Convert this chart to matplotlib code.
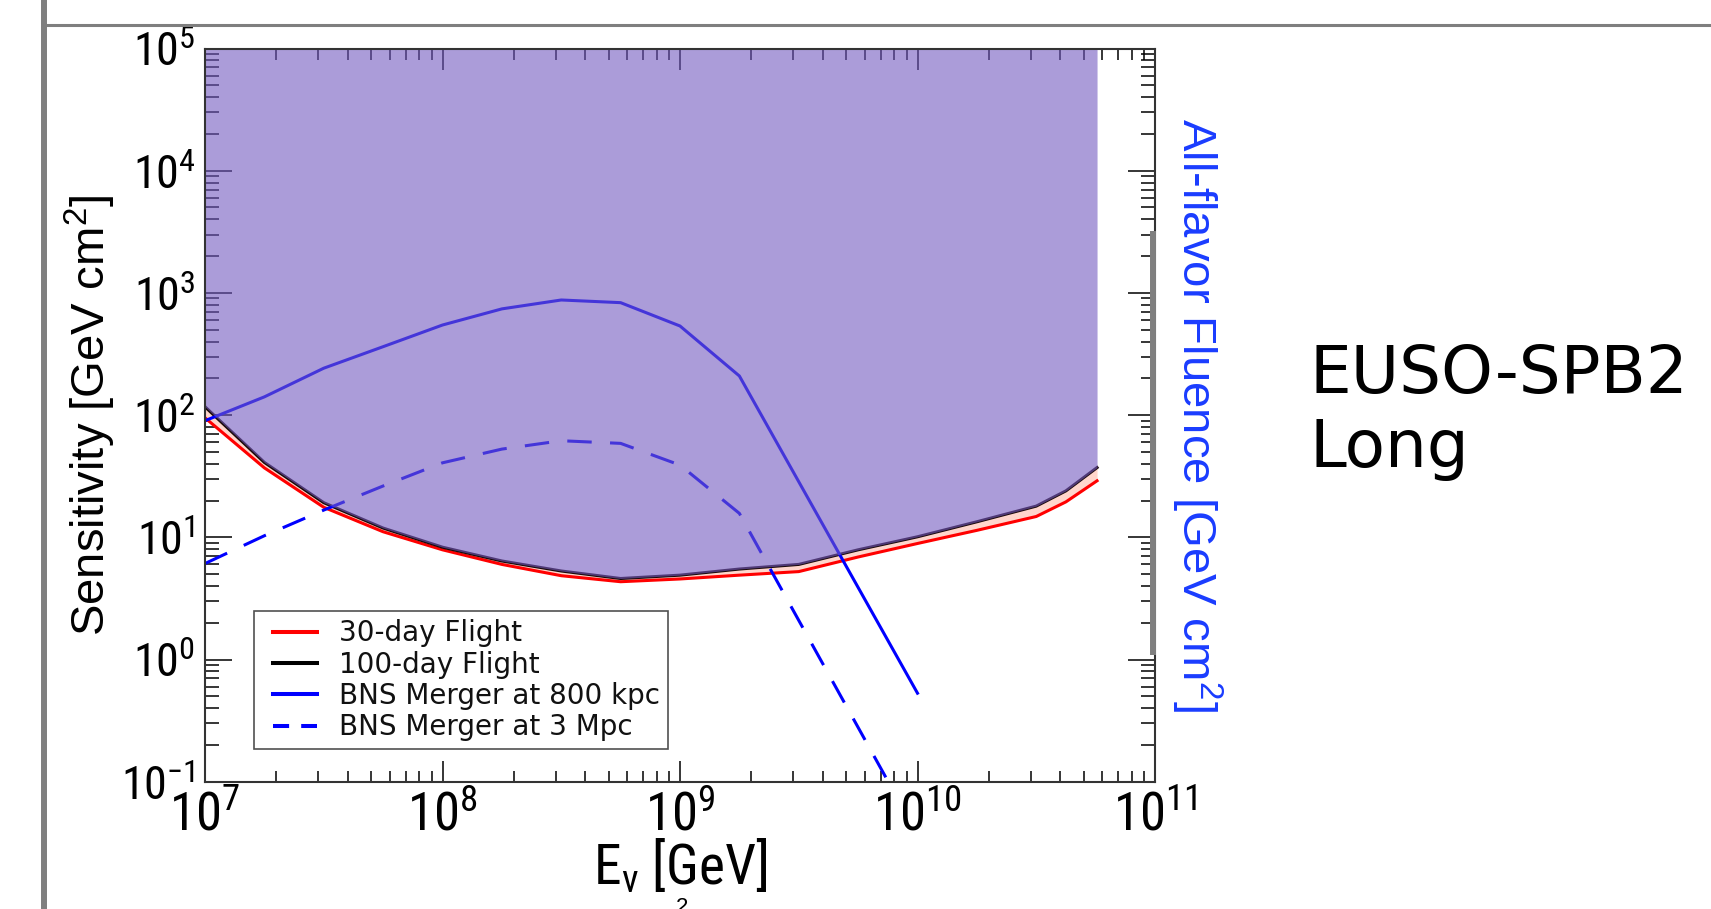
import os
import numpy as np
import matplotlib
matplotlib.use("Agg")
import matplotlib.pyplot as plt
from matplotlib import font_manager as fm
from matplotlib.font_manager import FontProperties
from matplotlib.lines import Line2D
from matplotlib.legend_handler import HandlerLine2D
from matplotlib.ticker import LogLocator, NullFormatter

# ---------------- data ----------------
sens_logE = [7.0, 7.25, 7.5, 7.75, 8.0, 8.25, 8.5, 8.75, 9.0, 9.25, 9.5, 9.75,
             10.0, 10.25, 10.5, 10.625, 10.756]
sens_100day = [117, 41, 19.2, 11.9, 8.3, 6.4, 5.3, 4.6, 4.9, 5.5, 6.0, 7.9,
               10.1, 13.4, 18.0, 24.0, 37.2]
sens_30day = [95, 37, 17.6, 11.1, 7.9, 6.0, 4.85, 4.33, 4.56, 4.9, 5.24, 6.9,
              8.9, 11.4, 14.8, 19.5, 29.0]

bns_logE = [7.0, 7.25, 7.5, 7.75, 8.0, 8.25, 8.5, 8.75, 9.0, 9.25, 10.0]
bns_800kpc = [90, 141, 242, 363, 546, 740, 875, 832, 536, 209, 0.53]
bns_3mpc = [6.1, 10.3, 16.7, 26.3, 40.7, 52.7, 61.7, 58.7, 39.0, 15.7, 0.037]

x_ticks = [1e7, 1e8, 1e9, 1e10, 1e11]
x_tick_labels = [r"$\mathdefault{10^{7}}$", r"$\mathdefault{10^{8}}$",
                 r"$\mathdefault{10^{9}}$", r"$\mathdefault{10^{10}}$",
                 r"$\mathdefault{10^{11}}$"]
y_ticks = [1e-1, 1e0, 1e1, 1e2, 1e3, 1e4, 1e5]
y_tick_labels = [r"$\mathdefault{10^{-1}}$", r"$\mathdefault{10^{0}}$",
                 r"$\mathdefault{10^{1}}$", r"$\mathdefault{10^{2}}$",
                 r"$\mathdefault{10^{3}}$", r"$\mathdefault{10^{4}}$",
                 r"$\mathdefault{10^{5}}$"]

legend_labels = ["30-day Flight", "100-day Flight",
                 "BNS Merger at 800 kpc", "BNS Merger at 3 Mpc"]
x_label = "E$_\\mathregular{ν}$ [GeV]"
y_label = "Sensitivity [GeV cm$^\\mathregular{2}$]"
right_label = "All-flavor Fluence [GeV cm$^\\mathregular{2}$]"
side_title = ["EUSO-SPB2", "Long"]
fill_top = 1e5

# ---------------- fonts ----------------
def find_font(patterns):
    files = [f.fname for f in fm.fontManager.ttflist]
    for pat in patterns:
        for fn in files:
            if pat.lower() in os.path.basename(fn).lower():
                return fn
    return None

narrow_path = find_font(["LiberationSansNarrow-Regular", "ArialNarrow",
                         "Arial Narrow", "RobotoCondensed-Regular",
                         "NotoSans-Condensed.ttf", "NotoSans-CondensedRegular",
                         "OpenSans_Condensed-Regular", "OpenSansCondensed-Regular",
                         "DejaVuSansCondensed.ttf"])

plt.rcParams["font.family"] = ["Liberation Sans", "DejaVu Sans"]
plt.rcParams["axes.unicode_minus"] = False
plt.rcParams["mathtext.default"] = "regular"

if narrow_path:
    fp_xt = FontProperties(fname=narrow_path, size=38)
    fp_yt = FontProperties(fname=narrow_path, size=33)
    fp_xl = FontProperties(fname=narrow_path, size=40)
else:
    fp_xt = FontProperties(family="Liberation Sans", size=34)
    fp_yt = FontProperties(family="Liberation Sans", size=31)
    fp_xl = FontProperties(family="Liberation Sans", size=37)

W, H = 1711, 909
fig = plt.figure(figsize=(W / 100, H / 100), dpi=100)
fig.patch.set_facecolor("white")

L, R, T, B = 205, 1155, 48.5, 781.7
ax = fig.add_axes([L / W, 1 - B / H, (R - L) / W, (B - T) / H])
ax.set_xscale("log")
ax.set_yscale("log")

E_sens = np.power(10.0, sens_logE)
E_bns = np.power(10.0, bns_logE)

blue = (0, 0, 1)
ax.fill_between(E_sens, sens_30day, sens_100day, color="#ffd6cc", lw=0, zorder=1.6)
ax.plot(E_sens, sens_30day, color="#ff0000", lw=2.2, zorder=1.8, solid_joinstyle="round")
ax.plot(E_sens, sens_100day, color="#1a0a08", lw=2.2, zorder=1.9, solid_joinstyle="round")
ax.plot(E_bns, bns_800kpc, color=blue, lw=2.2, zorder=2, solid_joinstyle="round")
ax.plot(E_bns, bns_3mpc, color=blue, lw=2.2, dashes=(8, 6), zorder=2)
ax.fill_between(E_sens, sens_100day, fill_top, color=(115/255, 90/255, 193/255),
                alpha=0.6, lw=0, zorder=3)

# ticks
ax.set_xticks(x_ticks)
ax.set_xticklabels(x_tick_labels, fontproperties=fp_xt)
ax.set_yticks(y_ticks)
ax.set_yticklabels(y_tick_labels, fontproperties=fp_yt)
for axis in (ax.xaxis, ax.yaxis):
    axis.set_minor_locator(LogLocator(base=10, subs=np.arange(2, 10), numticks=12))
    axis.set_minor_formatter(NullFormatter())
ax.set_xlim(1e7, 1e11)
ax.set_ylim(0.1, 1e5)
ax.tick_params(which="both", direction="in", top=True, right=True, color="black", width=1.1)
ax.tick_params(axis="x", which="major", length=15, pad=6)
ax.tick_params(axis="x", which="minor", length=8)
ax.tick_params(axis="y", which="major", length=19.5, pad=7)
ax.tick_params(axis="y", which="minor", length=10)
for s in ax.spines.values():
    s.set_linewidth(1.5)
    s.set_color("#333333")
    s.set_zorder(4)

ax.set_xlabel(x_label, fontproperties=fp_xl, va="center")
ax.xaxis.set_label_coords(0.5, -(866 - B) / (B - T))
ax.set_ylabel(y_label, fontsize=34, family="Liberation Sans", va="center")
ax.yaxis.set_label_coords(-(L - 90) / (R - L), 0.5)

# legend
handles = [Line2D([], [], color="#ff0000", lw=2.9),
           Line2D([], [], color="black", lw=2.9),
           Line2D([], [], color=blue, lw=2.9),
           Line2D([], [], color=blue, lw=2.9, dashes=(4, 3))]
leg = ax.legend(handles, legend_labels, loc="lower left",
                bbox_to_anchor=((254 - L) / (R - L), (B - 749) / (B - T)),
                borderaxespad=0, prop={"family": "DejaVu Sans", "size": 20},
                frameon=True, fancybox=False, shadow=False, framealpha=1,
                edgecolor="#505050", borderpad=0.28, labelspacing=0.12,
                handlelength=2.0, handletextpad=0.78,
                handler_map={Line2D: HandlerLine2D(xpad=0.4)})
leg.get_frame().set_linewidth(1.2)
for t in leg.get_texts():
    t.set_color("#111111")
leg.set_zorder(6)

# right-hand label
fig.text(1197 / W, 1 - 415 / H, right_label, rotation=-90, color="#1a3cff",
         fontsize=34, family="Liberation Sans", ha="center", va="center")

# side title
fig.text(1310 / W, 1 - 393 / H, side_title[0], fontsize=47.5, family="DejaVu Sans",
         ha="left", va="baseline", color="black")
fig.text(1310 / W, 1 - 467 / H, side_title[1], fontsize=47.5, family="DejaVu Sans",
         ha="left", va="baseline", color="black")

# slide decorations
gray = "#7f7f7f"
fig.add_artist(Line2D([44 / W, 44 / W], [0, 1], transform=fig.transFigure,
                      color=gray, lw=4.3, zorder=10))
fig.add_artist(Line2D([44 / W, 1], [1 - 25 / H, 1 - 25 / H], transform=fig.transFigure,
                      color=gray, lw=2.2, zorder=10))
fig.add_artist(Line2D([1153 / W, 1153 / W], [1 - 231 / H, 1 - 655 / H],
                      transform=fig.transFigure, color=gray, lw=4.3, zorder=10,
                      solid_capstyle="butt"))
fig.text(682 / W, 1 - 897 / H, "2", fontsize=16, family="Liberation Sans",
         ha="center", va="top", color="black")

fig.savefig("out.png", dpi=100)
